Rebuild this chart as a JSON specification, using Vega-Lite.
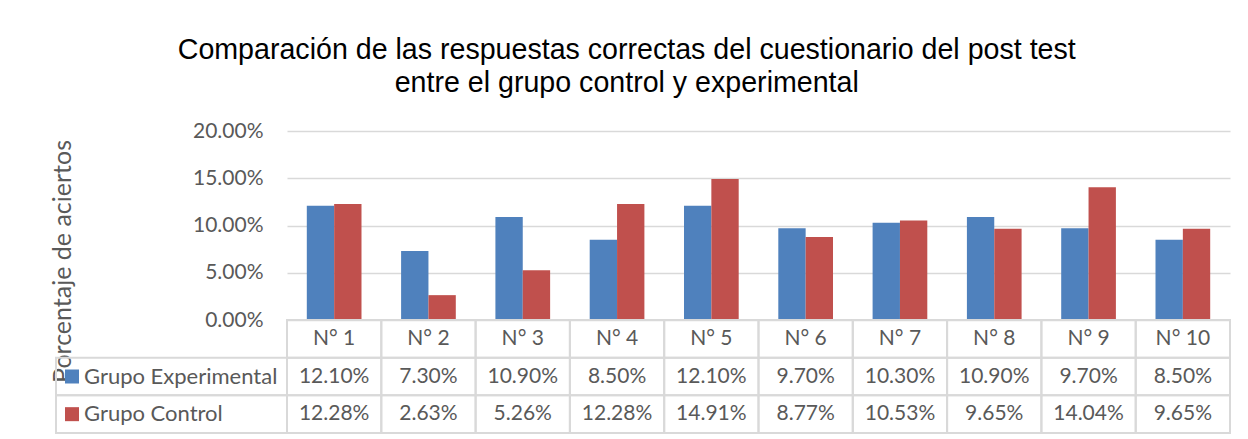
{
  "$schema": "https://vega.github.io/schema/vega-lite/v6.json",
  "background": "white",
  "padding": {"left": 50, "right": 18, "top": 35, "bottom": 6},
  "title": {
    "text": ["Comparación de las respuestas correctas del cuestionario del post test", "entre el grupo control y experimental"],
    "font": "Liberation Sans",
    "fontSize": 28.6,
    "fontWeight": "normal",
    "color": "#000000",
    "lineHeight": 33.5,
    "anchor": "middle",
    "dx": -14,
    "offset": 22
  },
  "datasets": {
    "resp": [
      {"pregunta": "N° 1", "grupo": "Grupo Experimental", "valor": 0.1210},
      {"pregunta": "N° 1", "grupo": "Grupo Control", "valor": 0.1228},
      {"pregunta": "N° 2", "grupo": "Grupo Experimental", "valor": 0.0730},
      {"pregunta": "N° 2", "grupo": "Grupo Control", "valor": 0.0263},
      {"pregunta": "N° 3", "grupo": "Grupo Experimental", "valor": 0.1090},
      {"pregunta": "N° 3", "grupo": "Grupo Control", "valor": 0.0526},
      {"pregunta": "N° 4", "grupo": "Grupo Experimental", "valor": 0.0850},
      {"pregunta": "N° 4", "grupo": "Grupo Control", "valor": 0.1228},
      {"pregunta": "N° 5", "grupo": "Grupo Experimental", "valor": 0.1210},
      {"pregunta": "N° 5", "grupo": "Grupo Control", "valor": 0.1491},
      {"pregunta": "N° 6", "grupo": "Grupo Experimental", "valor": 0.0970},
      {"pregunta": "N° 6", "grupo": "Grupo Control", "valor": 0.0877},
      {"pregunta": "N° 7", "grupo": "Grupo Experimental", "valor": 0.1030},
      {"pregunta": "N° 7", "grupo": "Grupo Control", "valor": 0.1053},
      {"pregunta": "N° 8", "grupo": "Grupo Experimental", "valor": 0.1090},
      {"pregunta": "N° 8", "grupo": "Grupo Control", "valor": 0.0965},
      {"pregunta": "N° 9", "grupo": "Grupo Experimental", "valor": 0.0970},
      {"pregunta": "N° 9", "grupo": "Grupo Control", "valor": 0.1404},
      {"pregunta": "N° 10", "grupo": "Grupo Experimental", "valor": 0.0850},
      {"pregunta": "N° 10", "grupo": "Grupo Control", "valor": 0.0965}
    ]
  },
  "columns": 2,
  "spacing": 0,
  "bounds": "flush",
  "concat": [
    {
      "width": 231,
      "height": 189,
      "data": {"values": [{"a": 1}]},
      "mark": {"type": "text", "text": ""},
      "encoding": {}
    },
    {
      "width": 943,
      "height": 189,
      "data": {"name": "resp"},
      "mark": {"type": "bar"},
      "encoding": {
        "x": {
          "field": "pregunta",
          "type": "nominal",
          "scale": {"domain": ["N° 1", "N° 2", "N° 3", "N° 4", "N° 5", "N° 6", "N° 7", "N° 8", "N° 9", "N° 10"], "paddingInner": 0.42, "paddingOuter": 0.21},
          "axis": null
        },
        "xOffset": {"field": "grupo", "type": "nominal", "scale": {"domain": ["Grupo Experimental", "Grupo Control"]}},
        "y": {
          "field": "valor",
          "type": "quantitative",
          "scale": {"domain": [0, 0.2]},
          "axis": {
            "values": [0, 0.05, 0.1, 0.15, 0.2],
            "format": ".2%",
            "grid": true,
            "domain": false,
            "ticks": false,
            "labelPadding": 24,
            "title": "Porcentaje de aciertos",
            "titleX": -216.5,
            "titleY": 130,
            "titleAlign": "center",
            "titleBaseline": "alphabetic",
            "titleAngle": -90,
            "titleFontSize": 25
          }
        },
        "color": {"field": "grupo", "type": "nominal", "scale": {"domain": ["Grupo Experimental", "Grupo Control"], "range": ["#4F81BD", "#C0504D"]}, "legend": null}
      }
    },
    {
      "width": 231,
      "height": 113,
      "data": {"name": "resp"},
      "transform": [{"filter": "datum.pregunta === 'N° 1'"}],
      "encoding": {
        "y": {"field": "grupo", "type": "nominal", "scale": {"domain": ["hdr", "Grupo Experimental", "Grupo Control"], "paddingInner": 0, "paddingOuter": 0}, "axis": null}
      },
      "layer": [
        {"mark": {"type": "rect", "fill": "transparent", "stroke": "#d9d9d9", "strokeWidth": 2}},
        {
          "mark": {"type": "point", "shape": "square", "filled": true, "size": 196, "opacity": 1, "xOffset": 16},
          "encoding": {
            "x": {"datum": 0, "type": "quantitative", "scale": {"domain": [0, 1]}, "axis": null},
            "color": {"field": "grupo", "type": "nominal", "scale": {"domain": ["Grupo Experimental", "Grupo Control"], "range": ["#4F81BD", "#C0504D"]}, "legend": null}
          }
        },
        {
          "mark": {"type": "text", "align": "left", "dx": 28, "fontSize": 22},
          "encoding": {
            "x": {"datum": 0, "type": "quantitative", "scale": {"domain": [0, 1]}, "axis": null},
            "text": {"field": "grupo"}
          }
        }
      ]
    },
    {
      "width": 943,
      "height": 113,
      "data": {"name": "resp"},
      "encoding": {
        "x": {
          "field": "pregunta",
          "type": "nominal",
          "scale": {"domain": ["N° 1", "N° 2", "N° 3", "N° 4", "N° 5", "N° 6", "N° 7", "N° 8", "N° 9", "N° 10"], "paddingInner": 0, "paddingOuter": 0},
          "axis": null
        }
      },
      "layer": [
        {
          "mark": {"type": "rect", "fill": "transparent", "stroke": "#d9d9d9", "strokeWidth": 2},
          "encoding": {"y": {"field": "grupo", "type": "nominal", "scale": {"domain": ["hdr", "Grupo Experimental", "Grupo Control"], "paddingInner": 0, "paddingOuter": 0}, "axis": null}}
        },
        {
          "transform": [{"filter": "datum.grupo === 'Grupo Experimental'"}],
          "mark": {"type": "rect", "fill": "transparent", "stroke": "#d9d9d9", "strokeWidth": 2},
          "encoding": {"y": {"datum": "hdr", "type": "nominal"}}
        },
        {
          "mark": {"type": "text"},
          "encoding": {"y": {"field": "grupo", "type": "nominal"}, "text": {"field": "valor", "format": ".2%"}}
        },
        {
          "transform": [{"filter": "datum.grupo === 'Grupo Experimental'"}],
          "mark": {"type": "text"},
          "encoding": {"y": {"datum": "hdr", "type": "nominal"}, "text": {"field": "pregunta"}}
        }
      ]
    }
  ],
  "config": {
    "view": {"stroke": null},
    "font": "Lato",
    "axis": {
      "labelFont": "Lato",
      "labelColor": "#595959",
      "labelFontSize": 21,
      "titleFont": "Lato",
      "titleColor": "#595959",
      "titleFontWeight": "normal",
      "gridColor": "#d9d9d9",
      "gridWidth": 1.5
    },
    "text": {"font": "Lato", "fontSize": 21, "color": "#595959"}
  }
}
